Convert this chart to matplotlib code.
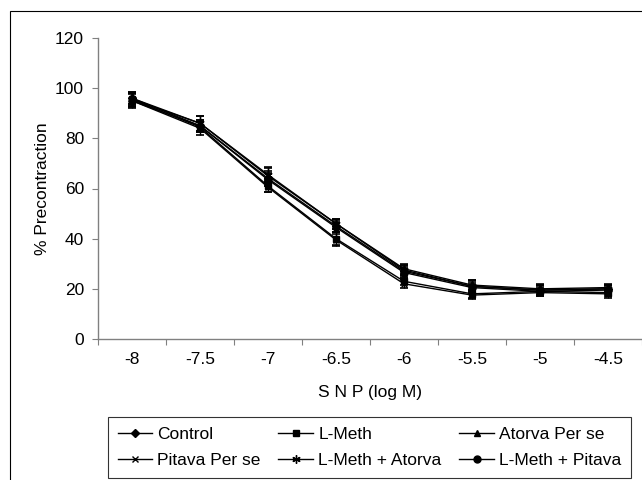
import numpy as np
import matplotlib
matplotlib.use("Agg")
import matplotlib.pyplot as plt
from matplotlib.patches import Rectangle

plt.rcParams['font.family'] = ['Liberation Sans', 'DejaVu Sans']

# SNP concentrations (log M)
snp_labels = ['-8', '-7.5', '-7', '-6.5', '-6', '-5.5', '-5', '-4.5']

# % precontraction for each group
control = [96.0, 85.0, 64.0, 45.0, 27.0, 21.0, 19.5, 20.0]
l_meth = [95.5, 84.5, 61.0, 40.0, 23.0, 18.0, 19.0, 18.5]
atorva = [96.0, 86.0, 65.0, 46.0, 28.0, 21.5, 20.0, 20.5]
pitava = [95.0, 84.0, 60.5, 39.5, 22.0, 17.5, 18.5, 18.0]
lmeth_atorva = [95.5, 86.0, 65.5, 46.0, 27.5, 21.0, 19.5, 20.0]
lmeth_pitava = [95.0, 85.0, 63.5, 44.5, 26.5, 20.5, 19.0, 19.5]

# standard errors
err_control = [2.5, 2.5, 3.0, 2.5, 2.0, 2.0, 2.0, 1.5]
err_l_meth = [2.5, 2.0, 2.5, 2.5, 1.5, 1.5, 1.5, 1.5]
err_atorva = [2.5, 3.0, 3.0, 2.0, 2.0, 2.0, 2.0, 1.5]
err_pitava = [3.0, 2.5, 2.0, 2.5, 1.5, 1.5, 1.5, 1.5]
err_lmeth_atorva = [2.5, 3.0, 3.0, 2.0, 2.0, 2.5, 2.0, 1.5]
err_lmeth_pitava = [2.5, 2.5, 2.5, 2.0, 2.0, 2.0, 2.0, 1.5]

series = [
    ('Control', control, err_control, 'D', 4),
    ('L-Meth', l_meth, err_l_meth, 's', 4.5),
    ('Atorva Per se', atorva, err_atorva, '^', 5),
    ('Pitava Per se', pitava, err_pitava, 'x', 5),
    ('L-Meth + Atorva', lmeth_atorva, err_lmeth_atorva, (6, 2, 0), 6),
    ('L-Meth + Pitava', lmeth_pitava, err_lmeth_pitava, 'o', 5),
]

FS = 12.5

fig = plt.figure(figsize=(6.42, 4.8), dpi=100)
ax = fig.add_axes([98 / 642, 1 - 339 / 480, 1 - 98 / 642, (339 - 38) / 480])

# outer chart-area border (cropped at right/bottom)
fig.add_artist(Rectangle((10 / 642, -0.2), 1.5, 1.2 - 11 / 480,
                         transform=fig.transFigure, fill=False,
                         edgecolor='black', lw=0.8))

x = np.arange(len(snp_labels))
handles = {}
for name, vals, errs, marker, ms in series:
    eb = ax.errorbar(x, vals, yerr=errs, color='black', lw=1.0,
                     marker=marker, ms=ms, mfc='black', mec='black',
                     ecolor='black', elinewidth=1.0, capsize=3, capthick=1.2)
    handles[name] = eb[0]

ax.set_xlim(-0.5, len(snp_labels) - 0.5)
ax.set_ylim(0, 120)
ax.set_yticks(np.arange(0, 121, 20))

# category axis: tick marks between categories, labels at centres
ax.set_xticks(np.arange(-0.5, len(snp_labels), 1))
ax.set_xticklabels([])
ax.set_xticks(x, minor=True)
ax.set_xticklabels(snp_labels, minor=True)
ax.tick_params(axis='x', which='major', direction='out', length=4,
               color='#808080')
ax.tick_params(axis='x', which='minor', length=0, pad=9, labelsize=FS)
ax.tick_params(axis='y', direction='out', length=4, color='#808080',
               pad=6, labelsize=FS)

for s in ['top', 'right']:
    ax.spines[s].set_visible(False)
for s in ['left', 'bottom']:
    ax.spines[s].set_color('#808080')
    ax.spines[s].set_linewidth(1.0)

ax.set_xlabel('S N P (log M)', fontsize=FS, labelpad=13)
ax.set_ylabel('% Precontraction', fontsize=FS, labelpad=4)

# legend: row-wise order in 3 columns
order = ['Control', 'Pitava Per se', 'L-Meth', 'L-Meth + Atorva',
         'Atorva Per se', 'L-Meth + Pitava']
leg = fig.legend([handles[n] for n in order], order, ncol=3,
                 loc='upper left', mode='expand',
                 bbox_to_anchor=(108 / 642, 1 - 422 / 480, (631 - 108) / 642, 0.01),
                 fontsize=FS, frameon=True, fancybox=False, edgecolor='black',
                 handlelength=2.0, handletextpad=0.3, borderaxespad=0,
                 labelspacing=0.65, borderpad=0.55, columnspacing=0.5)
leg.get_frame().set_linewidth(0.8)

fig.savefig('out.png', dpi=100)
